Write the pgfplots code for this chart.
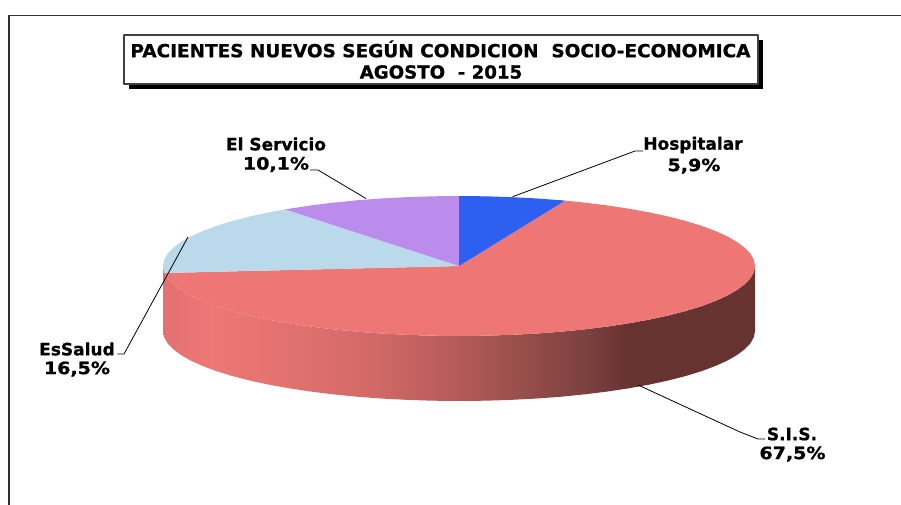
\documentclass[border=0pt]{standalone}
\usepackage{fontspec}
\setmainfont[BoldFeatures={FakeBold=0.9}]{DejaVu Sans}
\usepackage{graphicx}
\usepackage{pgfplots}
\pgfplotsset{compat=1.18}

\definecolor{hosp}{RGB}{45,95,240}
\definecolor{sis}{RGB}{238,119,118}
\definecolor{essalud}{RGB}{186,217,235}
\definecolor{servicio}{RGB}{187,140,236}

% side of the S.I.S. slice, x from 163 to 755 mapped on 25bp..75bp
\pgfdeclarehorizontalshading{sisside}{100bp}{
  rgb(0bp)=(0.89,0.44,0.45);
  rgb(25bp)=(0.89,0.44,0.45);
  rgb(29bp)=(0.93,0.47,0.46);
  rgb(36.6bp)=(0.88,0.44,0.43);
  rgb(43.3bp)=(0.81,0.41,0.40);
  rgb(49.2bp)=(0.72,0.36,0.35);
  rgb(55.1bp)=(0.60,0.31,0.30);
  rgb(61bp)=(0.48,0.25,0.24);
  rgb(64.4bp)=(0.40,0.20,0.19);
  rgb(75bp)=(0.40,0.20,0.19);
  rgb(100bp)=(0.40,0.20,0.19)}

\newcommand{\lab}{\fontsize{17}{20.5}\selectfont\bfseries}
\newcommand{\pct}[1]{\scalebox{1.12}[1]{#1}}

\begin{document}
\begin{tikzpicture}
\begin{axis}[
    width=901pt, height=505pt, scale only axis,
    xmin=0, xmax=901, ymin=0, ymax=505,
    y dir=reverse,
    hide axis,
    clip=true,
    every axis plot/.append style={mark=none, line join=round},
]
% keeps the page at the full size
\addplot[draw=none] coordinates {(0,0) (901,505)};

% outer frame
\addplot[color=black!80, line width=1.4pt] coordinates {(9,505) (9,15.5) (901,15.5)};

% title box with shadow
\addplot[draw=none, fill=black] coordinates {(129,40) (763,40) (763,89) (129,89)} --cycle;
\addplot[draw=black!75, line width=1.2pt, fill=white] coordinates {(124,35) (758,35) (758,84) (124,84)} --cycle;

% side of the pie
\addplot[draw=none, shading=sisside] coordinates {
  (755,266) (753.9,272.1) (750.5,278.2) (744.9,284.1) (737.2,289.9) (727.3,295.6)
  (715.3,301) (701.5,306.2) (685.7,311) (668.3,315.5) (649.3,319.6) (628.8,323.3)
  (607,326.6) (584.1,329.4) (560.2,331.8) (535.6,333.6) (510.4,334.9) (484.8,335.7)
  (459,336) (433.2,335.7) (407.6,334.9) (382.4,333.6) (357.8,331.8) (333.9,329.4)
  (311,326.6) (289.2,323.3) (268.7,319.6) (249.7,315.5) (232.3,311) (216.5,306.2)
  (202.7,301) (190.7,295.6) (180.8,289.9) (173.1,284.1) (167.5,278.2) (164.1,272.1)
  (163,266)
  (163,331) (164.1,337.1) (167.5,343.2) (173.1,349.1) (180.8,354.9) (190.7,360.6)
  (202.7,366) (216.5,371.2) (232.3,376) (249.7,380.5) (268.7,384.6) (289.2,388.3)
  (311,391.6) (333.9,394.4) (357.8,396.8) (382.4,398.6) (407.6,399.9) (433.2,400.7)
  (459,401) (484.8,400.7) (510.4,399.9) (535.6,398.6) (560.2,396.8) (584.1,394.4)
  (607,391.6) (628.8,388.3) (649.3,384.6) (668.3,380.5) (685.7,376) (701.5,371.2)
  (715.3,366) (727.3,360.6) (737.2,354.9) (744.9,349.1) (750.5,343.2) (753.9,337.1)
  (755,331)
} --cycle;

% top of the pie: S.I.S. 67,5
\addplot[draw=none, fill=sis] coordinates {
  (459,266) (565.1,200.6) (584.1,202.6) (607,205.4) (628.8,208.7) (649.3,212.4)
  (668.3,216.5) (685.7,221) (701.5,225.8) (715.3,231) (727.3,236.4) (737.2,242.1)
  (744.9,247.9) (750.5,253.8) (753.9,259.9) (755,266)
  (753.9,272.1) (750.5,278.2) (744.9,284.1) (737.2,289.9) (727.3,295.6)
  (715.3,301) (701.5,306.2) (685.7,311) (668.3,315.5) (649.3,319.6) (628.8,323.3)
  (607,326.6) (584.1,329.4) (560.2,331.8) (535.6,333.6) (510.4,334.9) (484.8,335.7)
  (459,336) (433.2,335.7) (407.6,334.9) (382.4,333.6) (357.8,331.8) (333.9,329.4)
  (311,326.6) (289.2,323.3) (268.7,319.6) (249.7,315.5) (232.3,311) (216.5,306.2)
  (202.7,301) (190.7,295.6) (180.8,289.9) (173.1,284.1) (167.5,278.2) (164.1,273)
} --cycle;
% EsSalud 16,5
\addplot[draw=none, fill=essalud] coordinates {
  (459,266) (164.1,273) (163,266) (164.1,259.9) (167.5,253.8) (173.1,247.9)
  (180.8,242.1) (190.7,236.4) (202.7,231) (216.5,225.8) (232.3,221) (249.7,216.5)
  (268.7,212.4) (285,209.4)
} --cycle;
% El Servicio 10,1
\addplot[draw=none, fill=servicio] coordinates {
  (459,266) (285,209.4) (289.2,208.7) (311,205.4) (333.9,202.6) (357.8,200.2)
  (382.4,198.4) (407.6,197.1) (433.2,196.3) (459,196)
} --cycle;
% Hospitalar 5,9
\addplot[draw=none, fill=hosp] coordinates {
  (459,266) (459,196) (484.8,196.3) (510.4,197.1) (535.6,198.4) (560.2,200.2) (565.1,200.6)
} --cycle;

% leader lines
\addplot[black, line width=0.8pt] coordinates {(310,170) (318,170) (366,198.5)};
\addplot[black, line width=0.8pt] coordinates {(643,151) (635,151) (512.7,196.7)};
\addplot[black, line width=0.8pt] coordinates {(117,354) (124,354) (188,237)};
\addplot[black, line width=0.8pt] coordinates {(638,385) (740,432) (758,439) (765,439)};

% title
\node[font=\fontsize{18}{20}\selectfont\bfseries] at (axis cs:440.5,49) {\scalebox{1.025}[1]{PACIENTES NUEVOS SEGÚN CONDICION\ \ SOCIO-ECONOMICA}};
\node[font=\fontsize{18}{20}\selectfont\bfseries] at (axis cs:441,72) {\scalebox{1.01}[1]{AGOSTO\ \ - 2015}};

% labels
\node[font=\lab] at (axis cs:276,144) {El Servicio};
\node[font=\lab] at (axis cs:276,164.5) {\pct{10,1\%}};
\node[font=\lab] at (axis cs:693,145) {Hospitalar};
\node[font=\lab] at (axis cs:694,166) {\pct{5,9\%}};
\node[font=\lab] at (axis cs:77,349) {EsSalud};
\node[font=\lab] at (axis cs:77,369) {\pct{16,5\%}};
\node[font=\lab] at (axis cs:792,434) {S.I.S.};
\node[font=\lab] at (axis cs:792.5,454) {\pct{67,5\%}};
\end{axis}
\end{tikzpicture}
\end{document}
